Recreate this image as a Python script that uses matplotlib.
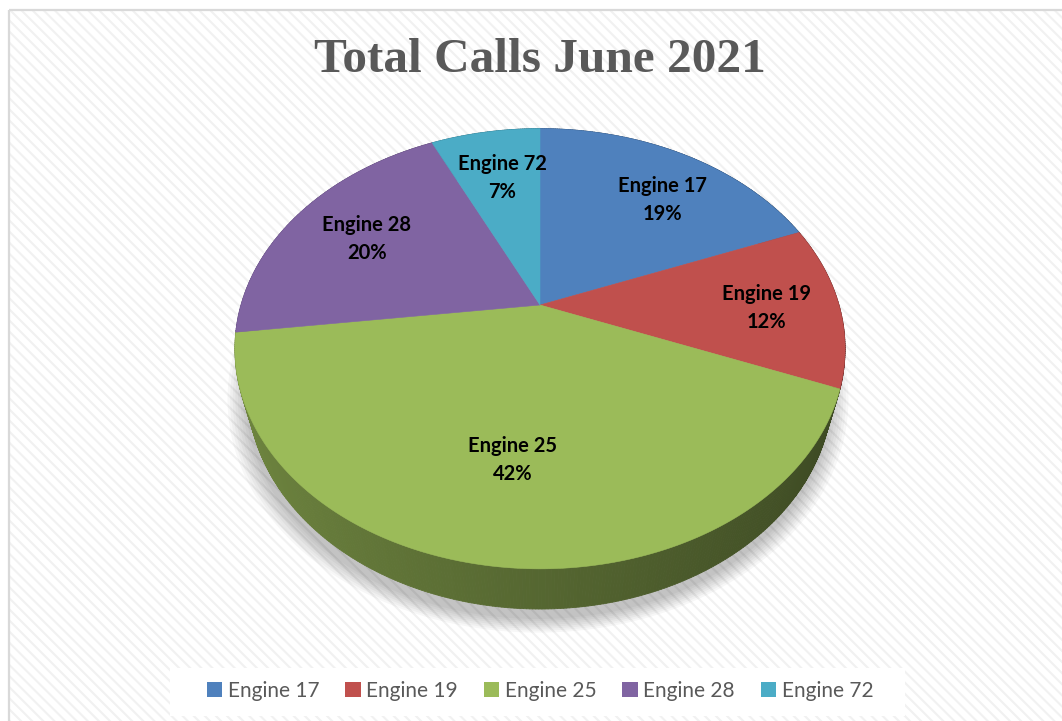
import numpy as np
import matplotlib
matplotlib.use("Agg")
import matplotlib.pyplot as plt
from matplotlib.patches import Rectangle, Polygon, Patch
from matplotlib.collections import PolyCollection
from matplotlib.colors import to_rgb

# data
engines = ["Engine 17", "Engine 19", "Engine 25", "Engine 28", "Engine 72"]
percents = [19, 12, 42, 20, 7]
colors = ["#4f81bd", "#c0504d", "#9bbb59", "#8064a2", "#4bacc6"]
title = "Total Calls June 2021"

# label anchor points (pixels) for the data labels
label_pos = [(662, 200), (766, 308), (513, 460), (367, 239), (502, 178)]

plt.rcParams['hatch.linewidth'] = 1.5
W, H = 1062, 721
fig = plt.figure(figsize=(W / 100, H / 100), dpi=100)
ax = fig.add_axes([0, 0, 1, 1])
ax.set_xlim(0, W)
ax.set_ylim(H, 0)
ax.axis('off')

# striped chart area + border
ax.add_patch(Rectangle((9, 10), W, H, facecolor='white', edgecolor='#f1f1f1',
                       hatch='\\' * 3, linewidth=0, zorder=0))
ax.add_patch(Rectangle((9, 10), W, H, facecolor='none', edgecolor='#d9d9d9',
                       linewidth=1.6, zorder=1))

# simple perspective projection of a tilted disc
cx, cy, F = 540, 305, 299.0
elev = np.radians(45)
k = 0.281
thick = 0.213


def proj(theta, r, z):
    t = np.radians(theta)
    X = r * np.sin(t)
    Y = r * np.cos(t)
    v = Y * np.sin(elev) + z * np.cos(elev)
    w = Y * np.cos(elev) - z * np.sin(elev)
    s = 1.0 / (1.0 + k * w)
    return cx + F * X * s, cy - F * v * s, w


# soft shadow under the pie
th = np.linspace(0, 360, 361)
for i, grow in enumerate(np.linspace(1.06, 1.0, 8)):
    sx, sy, _ = proj(th, grow, -thick)
    ax.add_patch(Polygon(np.column_stack([sx - 2, sy + 4 + 6 * (1.06 - grow) / 0.06]),
                         closed=True, facecolor='#000000', alpha=0.03,
                         edgecolor='none', zorder=2))

# side wall
edges = np.cumsum([0] + percents) / sum(percents) * 360
quads, qcols, depth = [], [], []
for i, pct in enumerate(percents):
    a0, a1 = edges[i], edges[i + 1]
    n = max(int((a1 - a0) * 2), 2)
    ts = np.linspace(a0, a1, n + 1)
    base = np.array(to_rgb(colors[i]))
    for j in range(n):
        t0, t1 = ts[j], ts[j + 1]
        x0, y0, w0 = proj(t0, 1, 0)
        x1, y1, w1 = proj(t1, 1, 0)
        x2, y2, _ = proj(t1, 1, -thick)
        x3, y3, _ = proj(t0, 1, -thick)
        tm = np.radians((t0 + t1) / 2)
        # lighter on the left, darker on the right
        f = 0.55 - 0.17 * np.sin(tm)
        quads.append([(x0, y0), (x1, y1), (x2, y2), (x3, y3)])
        qcols.append(np.clip(base * f, 0, 1))
        depth.append((w0 + w1) / 2)
order = np.argsort(depth)[::-1]
pc = PolyCollection([quads[o] for o in order], facecolors=[qcols[o] for o in order],
                    edgecolors=[qcols[o] for o in order], linewidths=0.6, zorder=3)
ax.add_collection(pc)

# top face
for i, pct in enumerate(percents):
    ts = np.linspace(edges[i], edges[i + 1], 200)
    sx, sy, _ = proj(ts, 1, 0)
    pts = np.vstack([[cx, cy], np.column_stack([sx, sy])])
    ax.add_patch(Polygon(pts, closed=True, facecolor=colors[i], edgecolor=colors[i],
                         linewidth=0.4, zorder=4))

# data labels
for i, name in enumerate(engines):
    x, y = label_pos[i]
    ax.text(x, y, f"{name}\n{percents[i]}%", ha='center', va='center',
            fontsize=14.5, fontweight='bold', family='Lato', color='black',
            linespacing=1.45, zorder=6)

ax.text(540, 60, title, ha='center', va='center', fontsize=35.5, fontweight='bold',
        family='Liberation Serif', color='#595959', zorder=6)

# legend box + legend
ax.add_patch(Rectangle((170, 668), 735, 48, facecolor='white', edgecolor='none', zorder=5))
handles = [Patch(facecolor=c, edgecolor='none') for c in colors]
leg = fig.legend(handles, engines, loc='center', ncol=5,
                 bbox_to_anchor=(540 / W, 1 - 691 / H), frameon=False,
                 handlelength=0.75, handleheight=0.75,
                 handletextpad=0.25, columnspacing=1.25,
                 prop={'family': 'Lato', 'size': 15})
for t in leg.get_texts():
    t.set_color('#595959')

fig.savefig("out.png", dpi=100)
